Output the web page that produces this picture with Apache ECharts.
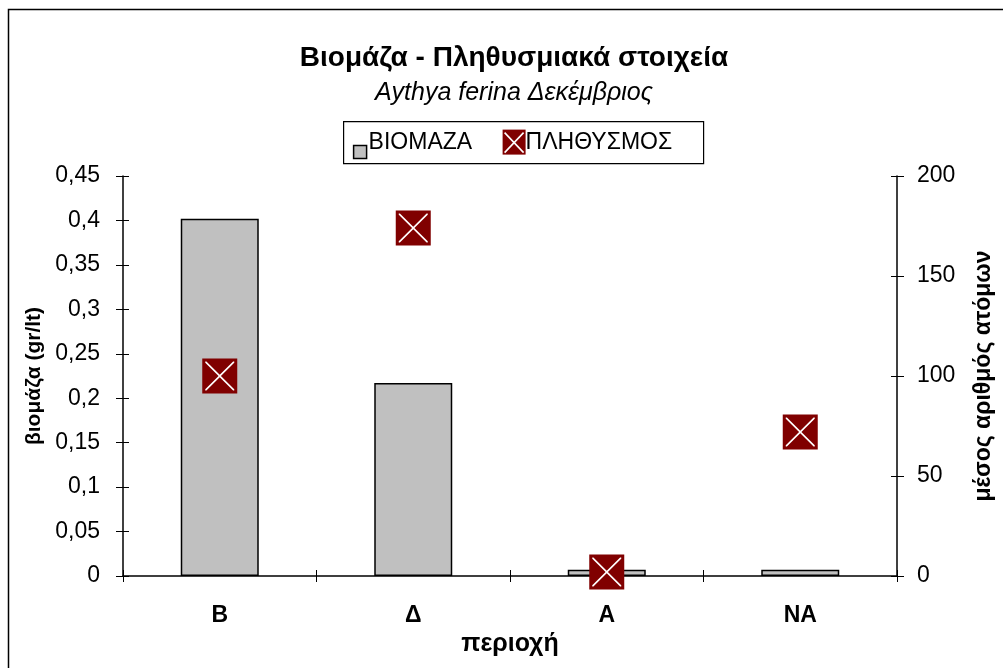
<!DOCTYPE html>
<html>
<head>
<meta charset="utf-8">
<script src="https://cdn.jsdelivr.net/npm/echarts@6/dist/echarts.min.js"></script>
<style>
  html, body { margin: 0; padding: 0; background: #fff; }
  #chart { width: 1003px; height: 668px; }
</style>
</head>
<body>
<div id="chart"></div>
<script>
// Categories (study areas) and series values
const categories = ['Β', 'Δ', 'Α', 'ΝΑ'];
const biomass = [0.402, 0.217, 0.007, 0.007];      // gr/lt, left axis
const population = [100, 174, 2, 72];              // mean number of individuals, right axis
const leftTicks = { min: 0, max: 0.45, interval: 0.05 };
const rightTicks = { min: 0, max: 200, interval: 50 };

const FONT = '"Liberation Sans", Arial, sans-serif';
const RED = '#800000';
const GREY = '#c0c0c0';

// thin "X" drawn as a filled outline so it can sit on the red square
const crossPath = 'path://M0,0 L4,0 L50,46 L96,0 L100,0 L100,4 L54,50 L100,96 L100,100 L96,100 L50,54 L4,100 L0,100 L0,96 L46,50 L0,4 Z';

const chart = echarts.init(document.getElementById('chart'), null, { renderer: 'canvas' });

const valueAxisBase = {
  type: 'value',
  axisLine: { show: true, lineStyle: { color: '#000', width: 1.5 } },
  splitLine: { show: false }
};

chart.setOption({
  animation: false,
  backgroundColor: '#fff',
  title: {
    text: 'Βιομάζα - Πληθυσμιακά στοιχεία',
    subtext: 'Aythya ferina Δεκέμβριος',
    left: 509,
    top: 39,
    textAlign: 'center',
    itemGap: 9,
    textStyle: { fontFamily: FONT, fontWeight: 'bold', fontSize: 28, color: '#000' },
    subtextStyle: { fontFamily: FONT, fontStyle: 'italic', fontSize: 25, color: '#000' }
  },
  legend: { show: false },
  grid: { left: 123, right: 104, top: 176, bottom: 92, containLabel: false },
  xAxis: [
    {
      type: 'category',
      data: categories,
      name: 'περιοχή',
      nameLocation: 'middle',
      nameGap: 40,
      nameTextStyle: { fontFamily: FONT, fontWeight: 'bold', fontSize: 25, color: '#000' },
      axisLine: { show: true, lineStyle: { color: '#000', width: 1.5 } },
      axisTick: { show: true, alignWithLabel: false, length: 6, lineStyle: { color: '#000' } },
      axisLabel: { fontFamily: FONT, fontWeight: 'bold', fontSize: 23, color: '#000', margin: 28 }
    },
    {
      // inner half of the crossing ticks
      type: 'category',
      data: categories,
      position: 'bottom',
      axisLine: { show: false },
      axisTick: { show: true, inside: true, length: 6, lineStyle: { color: '#000' } },
      axisLabel: { show: false }
    }
  ],
  yAxis: [
    Object.assign({}, valueAxisBase, {
      min: leftTicks.min, max: leftTicks.max, interval: leftTicks.interval,
      position: 'left',
      name: 'βιομάζα (gr/lt)',
      nameLocation: 'middle',
      nameGap: 75,
      nameTextStyle: { fontFamily: FONT, fontWeight: 'bold', fontSize: 21, color: '#000' },
      axisTick: { show: true, length: 7, lineStyle: { color: '#000' } },
      axisLabel: {
        fontFamily: FONT, fontSize: 23, color: '#000', margin: 23,
        formatter: v => String(+v.toFixed(2)).replace('.', ',')
      }
    }),
    Object.assign({}, valueAxisBase, {
      min: rightTicks.min, max: rightTicks.max, interval: rightTicks.interval,
      position: 'right',
      name: 'μέσος αριθμός ατόμων',
      nameLocation: 'middle',
      nameGap: 75,
      nameRotate: 90,
      nameTextStyle: { fontFamily: FONT, fontWeight: 'bold', fontSize: 23, color: '#000' },
      axisTick: { show: true, length: 7, lineStyle: { color: '#000' } },
      axisLabel: { fontFamily: FONT, fontSize: 23, color: '#000', margin: 20 }
    }),
    Object.assign({}, valueAxisBase, {
      min: leftTicks.min, max: leftTicks.max, interval: leftTicks.interval,
      position: 'left',
      axisLine: { show: false },
      axisTick: { show: true, inside: true, length: 6, lineStyle: { color: '#000' } },
      axisLabel: { show: false }
    }),
    Object.assign({}, valueAxisBase, {
      min: rightTicks.min, max: rightTicks.max, interval: rightTicks.interval,
      position: 'right',
      axisLine: { show: false },
      axisTick: { show: true, inside: true, length: 6, lineStyle: { color: '#000' } },
      axisLabel: { show: false }
    })
  ],
  series: [
    {
      name: 'ΒΙΟΜΑΖΑ',
      type: 'bar',
      yAxisIndex: 0,
      data: biomass,
      barWidth: 78,
      itemStyle: { color: GREY, borderColor: '#000', borderWidth: 1.5 },
      z: 2
    },
    {
      name: 'ΠΛΗΘΥΣΜΟΣ',
      type: 'scatter',
      yAxisIndex: 1,
      data: population,
      symbol: 'rect',
      symbolSize: 35,
      itemStyle: { color: RED, opacity: 1 },
      z: 3
    },
    {
      name: 'ΠΛΗΘΥΣΜΟΣ',
      type: 'scatter',
      yAxisIndex: 1,
      data: population,
      symbol: crossPath,
      symbolSize: 29,
      itemStyle: { color: '#fff', opacity: 1 },
      silent: true,
      z: 4
    }
  ],
  graphic: [
    // outer frame
    {
      type: 'rect',
      shape: { x: 8.5, y: 9.5, width: 1100, height: 800 },
      style: { fill: null, stroke: '#000', lineWidth: 1.5 },
      silent: true
    },
    // legend box
    {
      type: 'group',
      left: 343,
      top: 121,
      children: [
        { type: 'rect', shape: { x: 0, y: 0, width: 360, height: 42 },
          style: { fill: '#fff', stroke: '#000', lineWidth: 1.2 } },
        { type: 'rect', shape: { x: 10, y: 24, width: 13, height: 13 },
          style: { fill: GREY, stroke: '#000', lineWidth: 1.5 } },
        { type: 'text', style: { x: 25, y: 21, text: 'ΒΙΟΜΑΖΑ', fill: '#000',
          font: '23px ' + FONT, verticalAlign: 'middle' } },
        { type: 'rect', shape: { x: 159, y: 8, width: 23, height: 25 },
          style: { fill: RED } },
        { type: 'polyline', shape: { points: [[161, 11], [180, 31]] },
          style: { stroke: '#fff', lineWidth: 1.6 } },
        { type: 'polyline', shape: { points: [[180, 11], [161, 31]] },
          style: { stroke: '#fff', lineWidth: 1.6 } },
        { type: 'text', style: { x: 182, y: 21, text: 'ΠΛΗΘΥΣΜΟΣ', fill: '#000',
          font: '23px ' + FONT, verticalAlign: 'middle' } }
      ]
    }
  ]
});
</script>
</body>
</html>
